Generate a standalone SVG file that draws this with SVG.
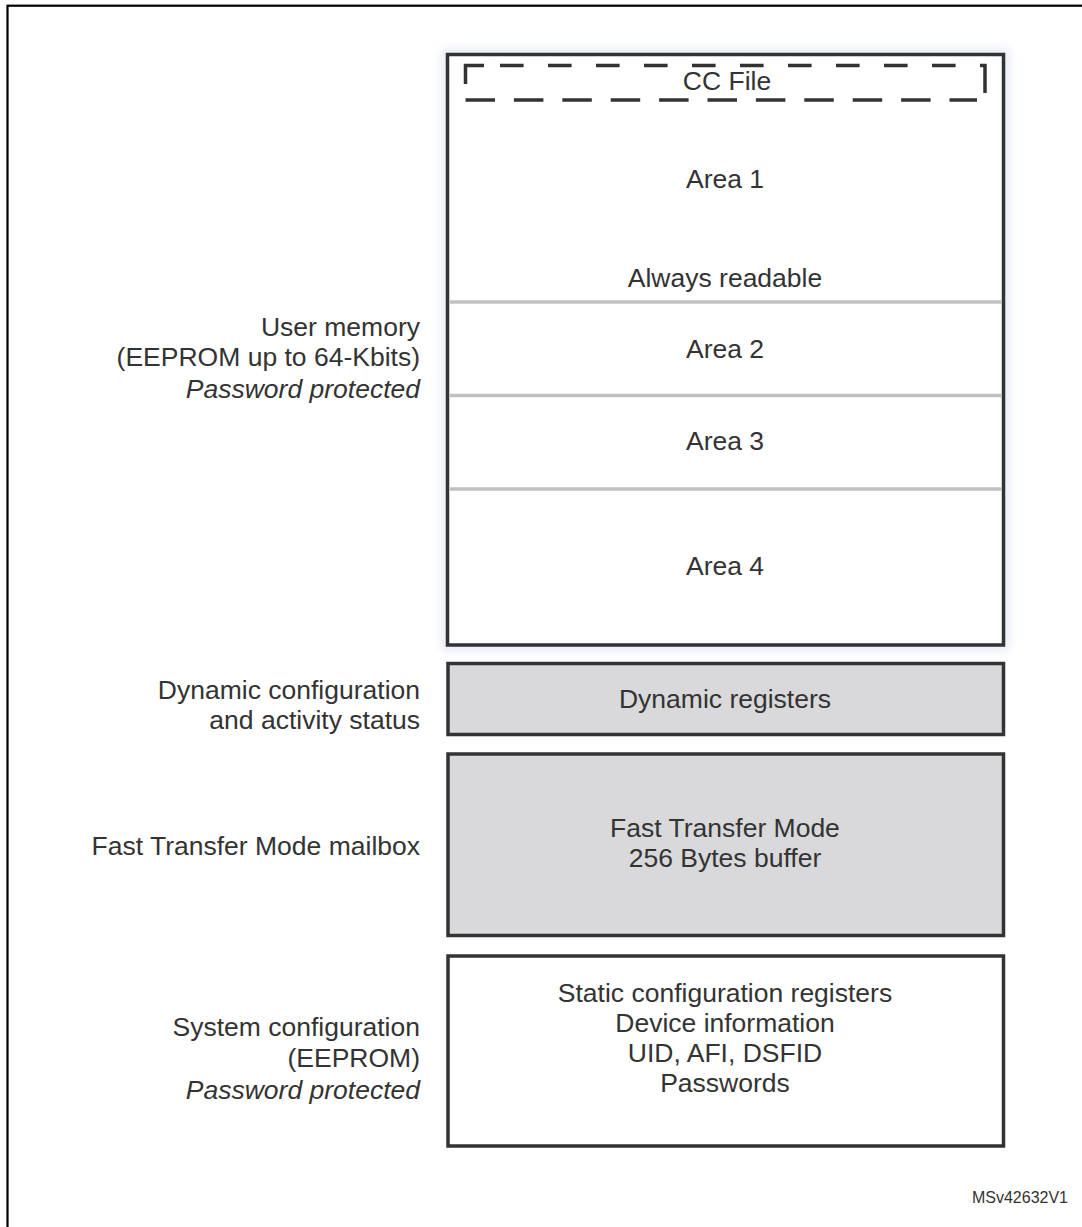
<svg xmlns="http://www.w3.org/2000/svg" width="1082" height="1227" viewBox="0 0 1082 1227">
<style>
  .t { font-family: "Liberation Sans", Arial, sans-serif; font-size: 26.5px; fill: #333333; }
  .c { text-anchor: middle; }
  .r { text-anchor: end; }
  .i { font-style: italic; }
  .box { stroke: #333333; stroke-width: 3.5; }
  .sep { stroke: #c0c0c0; stroke-width: 3.5; }
  .dash { fill: none; stroke: #333333; stroke-width: 3.5; }
</style>
<defs>
  <filter id="halo" x="-10%" y="-10%" width="120%" height="120%">
    <feGaussianBlur stdDeviation="5"/>
  </filter>
</defs>
<rect x="0" y="0" width="1082" height="1227" fill="#ffffff"/>
<rect x="7.5" y="5.7" width="1100" height="1250" fill="none" stroke="#000000" stroke-width="2.2"/>

<g id="user-memory">
  <rect x="447.5" y="54.5" width="556" height="590.5" fill="none" stroke="#e6ebf5" stroke-width="12" filter="url(#halo)"/>
  <rect class="box" x="447.5" y="54.5" width="556" height="590.5" fill="#ffffff"/>
  <line class="sep" x1="449.5" y1="302" x2="1001.5" y2="302"/>
  <line class="sep" x1="449.5" y1="395.5" x2="1001.5" y2="395.5"/>
  <line class="sep" x1="449.5" y1="489" x2="1001.5" y2="489"/>
  <text class="t r" x="420" y="336">User memory</text>
  <text class="t r" x="420" y="366">(EEPROM up to 64-Kbits)</text>
  <text class="t r i" x="420" y="398">Password protected</text>
</g>
<g id="cc-file">
  <path class="dash" d="M465.5,84 V65.5 H484"/>
  <line class="dash" x1="500" y1="65.5" x2="957" y2="65.5" stroke-dasharray="23.6 24.4"/>
  <path class="dash" d="M980,65.5 H985 V93"/>
  <line class="dash" x1="465.5" y1="100" x2="977" y2="100" stroke-dasharray="29.5 18.9"/>
  <text class="t c" x="727" y="90">CC File</text>
</g>
<g id="area1">
  <text class="t c" x="725" y="188">Area 1</text>
  <text class="t c" x="725" y="287">Always readable</text>
</g>
<g id="area2"><text class="t c" x="725" y="358">Area 2</text></g>
<g id="area3"><text class="t c" x="725" y="450">Area 3</text></g>
<g id="area4"><text class="t c" x="725" y="575">Area 4</text></g>

<g id="dynamic">
  <rect class="box" x="448" y="663.5" width="555.5" height="71" fill="#d9d9db"/>
  <text class="t c" x="725" y="708">Dynamic registers</text>
  <text class="t r" x="420" y="699">Dynamic configuration</text>
  <text class="t r" x="420" y="729">and activity status</text>
</g>

<g id="ftm">
  <rect class="box" x="448" y="754" width="555.5" height="181.5" fill="#d9d9db"/>
  <text class="t c" x="725" y="837">Fast Transfer Mode</text>
  <text class="t c" x="725" y="867">256 Bytes buffer</text>
  <text class="t r" x="420" y="855">Fast Transfer Mode mailbox</text>
</g>

<g id="system">
  <rect class="box" x="448" y="956" width="555.5" height="190" fill="#ffffff"/>
  <text class="t c" x="725" y="1002">Static configuration registers</text>
  <text class="t c" x="725" y="1032">Device information</text>
  <text class="t c" x="725" y="1062">UID, AFI, DSFID</text>
  <text class="t c" x="725" y="1092">Passwords</text>
  <text class="t r" x="420" y="1036">System configuration</text>
  <text class="t r" x="420" y="1067">(EEPROM)</text>
  <text class="t r i" x="420" y="1099">Password protected</text>
</g>

<g id="connectors"></g>

<text class="t" x="1068" y="1203" style="font-size:16px;text-anchor:end">MSv42632V1</text>
</svg>
